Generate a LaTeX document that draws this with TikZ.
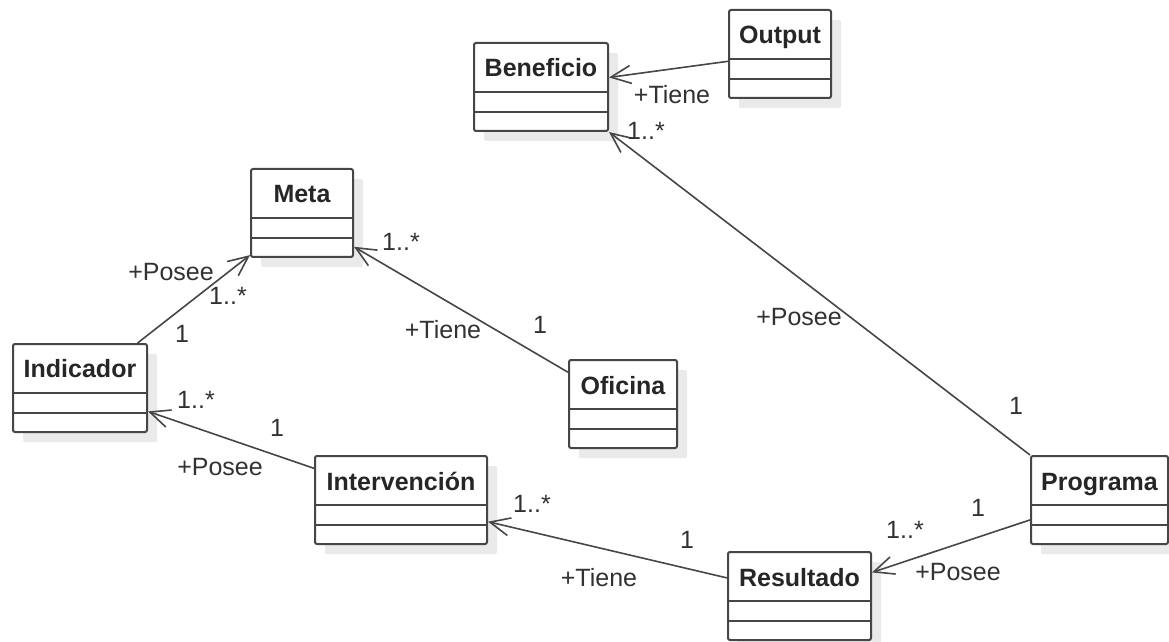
\documentclass[tikz,border=0pt]{standalone}
\usepackage{fontspec}
\setmainfont{Liberation Sans}
\usepackage{tikz}
\usetikzlibrary{arrows.meta,shadows}
\definecolor{borde}{RGB}{70,70,70}
\definecolor{texto}{RGB}{50,50,50}
\definecolor{sombra}{RGB}{234,234,234}
\tikzset{
  clase/.style={draw=borde, line width=1pt, fill=white, anchor=north west,
    rounded corners=1pt, inner ysep=0pt, text height=17pt, text depth=27pt,
    text=black!85, font=\fontsize{12.5}{15}\selectfont\bfseries,
    general shadow={fill=sombra, shadow xshift=5pt, shadow yshift=-5pt}},
  asoc/.style={draw=borde, line width=0.8pt, -{Straight Barb[length=10pt,width=9pt]}},
  etiq/.style={inner sep=0pt, text=texto, font=\fontsize{12.5}{15}\selectfont}
}

\begin{document}
\begin{tikzpicture}[x=0.5pt,y=-0.5pt]
		\useasboundingbox (0,0) rectangle (1169,642);
		%draw classes
		\node[clase, minimum width=67pt] (benef) at (473,42) {Beneficio};
		\node[clase, minimum width=51pt] (output) at (728,9) {Output};
		\node[clase, minimum width=51pt] (meta) at (250,168) {Meta};
		\node[clase, minimum width=67pt] (indic) at (12,343) {Indicador};
		\node[clase, minimum width=54pt] (ofic) at (568,359) {Oficina};
		\node[clase, minimum width=86pt] (interv) at (314,455) {Intervención};
		\node[clase, minimum width=71.5pt] (result) at (727,551) {Resultado};
		\node[clase, minimum width=68.5pt] (progr) at (1030,455) {Programa};
		%draw compartments
		\foreach \c in {benef,output,meta,indic,ofic,interv,result,progr}{
			\draw[borde, line width=1pt] ([yshift=-25pt]\c.north west) -- ([yshift=-25pt]\c.north east);
			\draw[borde, line width=1pt] ([yshift=-35pt]\c.north west) -- ([yshift=-35pt]\c.north east);
		}
		%draw associations
		\draw[asoc] (output.188) -- (benef.8);
		\draw[asoc] (progr.north west) -- (benef.south east);
		\draw[asoc] (indic.38) -- (meta.219);
		\draw[asoc] (ofic.150) -- (meta.-33);
		\draw[asoc] (interv.160) -- (indic.-19);
		\draw[asoc] (result.166) -- (interv.-14);
		\draw[asoc] (progr.196) -- (result.18);
		%draw labels
		\node[etiq] (t1) at (672,95) {+Tiene};
		\node[etiq] (m1) at (646,131) {1..*};
		\node[etiq] (p1) at (799,317) {+Posee};
		\node[etiq] (n1) at (1016,406) {1};
		\node[etiq] (p2) at (171,272) {+Posee};
		\node[etiq] (m2) at (228,296) {1..*};
		\node[etiq] (n2) at (182,334) {1};
		\node[etiq] (m3) at (401,242) {1..*};
		\node[etiq] (t2) at (443,330) {+Tiene};
		\node[etiq] (n3) at (540,325) {1};
		\node[etiq] (m4) at (196,400) {1..*};
		\node[etiq] (n4) at (277,428) {1};
		\node[etiq] (p3) at (220,467) {+Posee};
		\node[etiq] (m5) at (532,504) {1..*};
		\node[etiq] (n5) at (687,540) {1};
		\node[etiq] (t3) at (599,578) {+Tiene};
		\node[etiq] (n6) at (978,508) {1};
		\node[etiq] (m6) at (905,530) {1..*};
		\node[etiq] (p4) at (958,572) {+Posee};
	\end{tikzpicture}
\end{document}
